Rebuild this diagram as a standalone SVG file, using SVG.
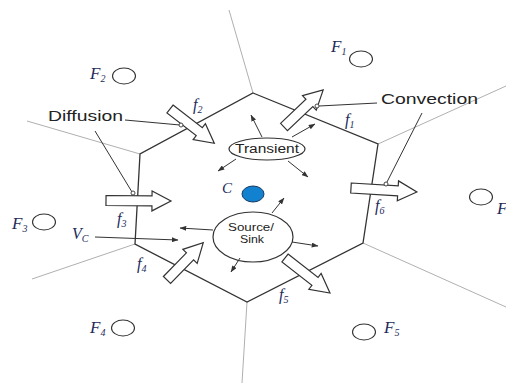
<svg xmlns="http://www.w3.org/2000/svg" width="506" height="383" viewBox="0 0 506 383">
<style>
.bg{fill:#ffffff}
.hex{fill:none;stroke:#333;stroke-width:1.3}
.grey{fill:none;stroke:#b0b0b0;stroke-width:1}
.blk{fill:#ffffff;stroke:#333;stroke-width:1.2;stroke-linejoin:miter}
.thin{fill:none;stroke:#333;stroke-width:1}
.ptr{fill:none;stroke:#333;stroke-width:1}
.dot{fill:#fff;stroke:#333;stroke-width:0.9}
.node{fill:#fff;stroke:#333;stroke-width:1.2}
.pt{fill:none;stroke:#333;stroke-width:1.1}
.lbl{font-family:"Liberation Sans",Arial,sans-serif;fill:#222}
.ital{font-family:"Liberation Serif","Times New Roman",serif;font-style:italic;fill:#232a5a}
.big{font-size:17px}
.sub{font-size:10px}
</style>
<defs>
<marker id="ah" viewBox="0 0 8 6" refX="7.5" refY="3" markerWidth="7" markerHeight="5" markerUnits="userSpaceOnUse" orient="auto">
<path d="M0,0 L8,3 L0,6 Z" fill="#333"/>
</marker>
</defs>
<rect class="bg" x="0" y="0" width="506" height="383"/>
<g id="cells">
<path class="grey" d="M253,93 L229,10 M140,154 L27,121 M378,144 L506,86 M363,243 L506,307 M247,302 L242,383 M135,244 L32,279"/>
<path class="hex" d="M253,93 L378,144 L363,243 L247,302 L135,244 L140,154 Z"/>
</g>
<g id="nodes">
<g id="F1"><ellipse class="pt" cx="361" cy="59" rx="11.5" ry="8"/><text class="ital big" x="331" y="52">F<tspan class="sub" dy="3">1</tspan></text></g>
<g id="F2"><ellipse class="pt" cx="124" cy="76" rx="11.5" ry="8"/><text class="ital big" x="90" y="79">F<tspan class="sub" dy="3">2</tspan></text></g>
<g id="F3"><ellipse class="pt" cx="44" cy="222" rx="11.5" ry="8"/><text class="ital big" x="12" y="229">F<tspan class="sub" dy="3">3</tspan></text></g>
<g id="F4"><ellipse class="pt" cx="123" cy="328" rx="11.5" ry="8"/><text class="ital big" x="90" y="333">F<tspan class="sub" dy="3">4</tspan></text></g>
<g id="F5"><ellipse class="pt" cx="364" cy="332" rx="11.5" ry="8"/><text class="ital big" x="384" y="333">F<tspan class="sub" dy="3">5</tspan></text></g>
<g id="F6"><ellipse class="pt" cx="481" cy="197" rx="11.5" ry="8"/><text class="ital big" x="497" y="214">F<tspan class="sub" dy="3">6</tspan></text></g>
<g id="C"><ellipse cx="253" cy="194" rx="11" ry="8" fill="#1282d0" stroke="#1a3a60" stroke-width="1"/><text class="ital" x="222" y="193" font-size="15">C</text></g>
<g id="transient"><ellipse class="node" cx="267" cy="149" rx="38" ry="11"/><text class="lbl" x="267" y="153" font-size="12" text-anchor="middle" textLength="64" lengthAdjust="spacingAndGlyphs" fill="#1a2050">Transient</text></g>
<g id="source"><ellipse class="node" cx="253" cy="237" rx="40" ry="25"/><text class="lbl" font-size="11.5" text-anchor="middle" fill="#1a2050"><tspan x="251" y="231" textLength="46" lengthAdjust="spacingAndGlyphs">Source/</tspan><tspan x="252" y="243" textLength="24" lengthAdjust="spacingAndGlyphs">Sink</tspan></text></g>
<g id="diffusion"><text class="lbl" x="48" y="121" font-size="15" textLength="75" lengthAdjust="spacingAndGlyphs">Diffusion</text></g>
<g id="convection"><text class="lbl" x="381" y="104" font-size="15" textLength="97" lengthAdjust="spacingAndGlyphs">Convection</text></g>
<g id="flabels">
<text class="ital" x="193" y="110" font-size="16">f<tspan class="sub" dy="3">2</tspan></text>
<text class="ital" x="345" y="125" font-size="16">f<tspan class="sub" dy="3">1</tspan></text>
<text class="ital" x="117" y="224" font-size="16">f<tspan class="sub" dy="3">3</tspan></text>
<text class="ital" x="137" y="269" font-size="16">f<tspan class="sub" dy="3">4</tspan></text>
<text class="ital" x="279" y="300" font-size="16">f<tspan class="sub" dy="3">5</tspan></text>
<text class="ital" x="375" y="211" font-size="16">f<tspan class="sub" dy="3">6</tspan></text>
<text class="ital" x="72" y="239" font-size="16">V<tspan class="sub" dy="3">C</tspan></text>
</g>
</g>
<g id="connectors">
<path class="blk" transform="translate(170,109) rotate(37.7)" d="M0,-5 H37 V-10 L56,0 L37,10 V5 H0 Z"/>
<path class="blk" transform="translate(284,127) rotate(-43.5)" d="M0,-5 H35 V-10 L54,0 L35,10 V5 H0 Z"/>
<path class="blk" transform="translate(106,200.5) rotate(0.5)" d="M0,-5 H46 V-10 L65,0 L46,10 V5 H0 Z"/>
<path class="blk" transform="translate(167,280) rotate(-45.8)" d="M0,-5 H33 V-10 L52,0 L33,10 V5 H0 Z"/>
<path class="blk" transform="translate(285,258) rotate(37.9)" d="M0,-5 H38 V-10 L57,0 L38,10 V5 H0 Z"/>
<path class="blk" transform="translate(351,188) rotate(3.5)" d="M0,-5 H47 V-10 L66,0 L47,10 V5 H0 Z"/>
<path class="ptr" d="M125,120 L180,125 M95,131 L132,192 M377,103 L319,106 M422,113 L387,182"/>
<circle class="dot" cx="181" cy="125" r="2"/>
<circle class="dot" cx="133" cy="193" r="2"/>
<circle class="dot" cx="317" cy="106" r="2"/>
<circle class="dot" cx="386" cy="184" r="2"/>
<line class="thin" x1="95" y1="237" x2="178" y2="240" marker-end="url(#ah)"/>
<line class="thin" x1="262" y1="137" x2="251" y2="115" marker-end="url(#ah)"/>
<line class="thin" x1="292" y1="137" x2="315" y2="124" marker-end="url(#ah)"/>
<line class="thin" x1="236" y1="159" x2="218" y2="171" marker-end="url(#ah)"/>
<line class="thin" x1="288" y1="161" x2="308" y2="177" marker-end="url(#ah)"/>
<line class="thin" x1="272" y1="213" x2="284" y2="198" marker-end="url(#ah)"/>
<line class="thin" x1="213" y1="230" x2="180" y2="228" marker-end="url(#ah)"/>
<line class="thin" x1="240" y1="258" x2="231" y2="272" marker-end="url(#ah)"/>
<line class="thin" x1="292" y1="242" x2="318" y2="246" marker-end="url(#ah)"/>
</g>
</svg>
